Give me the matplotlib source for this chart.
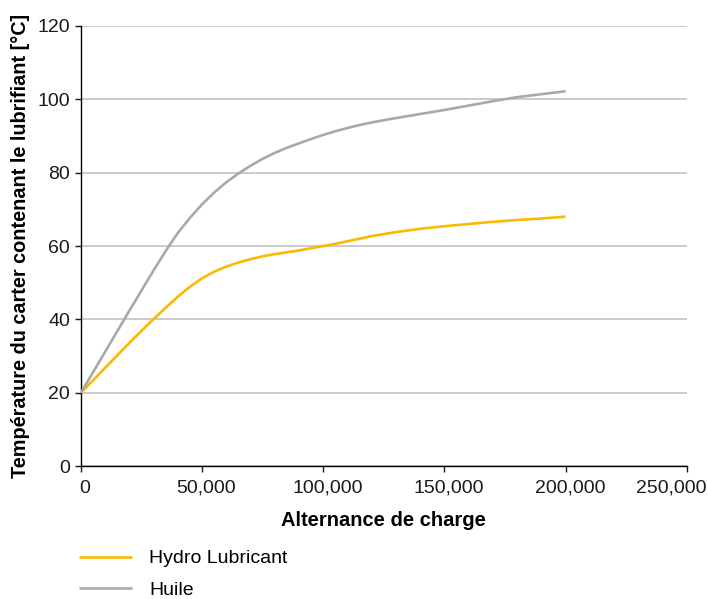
import numpy as np
import matplotlib
matplotlib.use("Agg")
import matplotlib.pyplot as plt
from matplotlib.ticker import FuncFormatter
from matplotlib.transforms import ScaledTranslation

plt.rcParams['font.family'] = ['Liberation Sans', 'DejaVu Sans']

# Alternance de charge
cycles = [0, 5000, 10000, 15000, 20000, 25000, 30000, 35000, 40000, 45000, 50000,
          55000, 60000, 65000, 70000, 75000, 80000, 85000, 90000, 95000, 100000,
          105000, 110000, 115000, 120000, 130000, 140000, 150000, 160000, 170000,
          180000, 190000, 200000]
# temperatures
hydro = [20, 23.4, 26.8, 30.2, 33.6, 36.9, 40.1, 43.2, 46.2, 48.9, 51.2,
         53.0, 54.4, 55.5, 56.4, 57.2, 57.8, 58.3, 58.8, 59.4, 60.0,
         60.6, 61.3, 62.0, 62.7, 63.8, 64.7, 65.4, 66.0, 66.6,
         67.1, 67.5, 68.0]
huile = [20, 25.6, 31.2, 36.8, 42.4, 47.9, 53.4, 58.7, 63.6, 67.7, 71.4,
         74.6, 77.4, 79.8, 81.9, 83.8, 85.4, 86.8, 88.0, 89.2, 90.3,
         91.3, 92.2, 93.0, 93.7, 94.9, 96.0, 97.1, 98.3, 99.5,
         100.6, 101.4, 102.2]

series_labels = ["Hydro Lubricant", "Huile"]
series_colors = ["#fbb900", "#a9a9a9"]

fig = plt.figure(figsize=(7.08, 5.99), dpi=100)
ax = fig.add_axes([0.1144, 0.222, 0.8556, 0.7346])

ax.plot(cycles, hydro, color=series_colors[0], lw=1.9, label=series_labels[0],
        solid_capstyle='butt', solid_joinstyle='round', zorder=3)
ax.plot(cycles, huile, color=series_colors[1], lw=1.9, label=series_labels[1],
        solid_capstyle='butt', solid_joinstyle='round', zorder=3)

ax.set_xlim(0, 250000)
ax.set_ylim(0, 120)
ax.set_xticks(np.arange(0, 250001, 50000))
ax.set_yticks(np.arange(0, 121, 20))
ax.xaxis.set_major_formatter(FuncFormatter(lambda v, p: f"{int(v):,}"))

ax.yaxis.grid(True, color="#bdbdbd", lw=1.1)
ax.set_axisbelow(True)
for s in ["top", "right"]:
    ax.spines[s].set_visible(False)
for s in ["left", "bottom"]:
    ax.spines[s].set_color("black")
    ax.spines[s].set_linewidth(1.0)

ax.tick_params(axis='both', labelsize=14, colors='#1a1a1a', length=4, width=1.0)
ax.tick_params(axis='x', pad=6)
ax.tick_params(axis='y', pad=4)

# x labels sit a little right of their ticks; the last one is kept inside the figure
fig.canvas.draw()
xlabels = ax.get_xticklabels()
for lab in xlabels[:-1]:
    lab.set_transform(lab.get_transform() + ScaledTranslation(3 / 72, 0, fig.dpi_scale_trans))
xlabels[-1].set_horizontalalignment('right')
xlabels[-1].set_transform(xlabels[-1].get_transform() + ScaledTranslation(14 / 72, 0, fig.dpi_scale_trans))

ax.set_xlabel("Alternance de charge", fontsize=14.5, fontweight='bold', labelpad=10)
ax.set_ylabel("Température du carter contenant le lubrifiant [°C]", fontsize=14.3,
              fontweight='bold', labelpad=5)

fig.legend(loc='upper left', bbox_to_anchor=(0.1116, 0.082), frameon=False,
           fontsize=14, handlelength=2.7, handletextpad=0.9, labelspacing=0.72,
           borderaxespad=0, borderpad=0)

fig.savefig("out.png", dpi=100)
